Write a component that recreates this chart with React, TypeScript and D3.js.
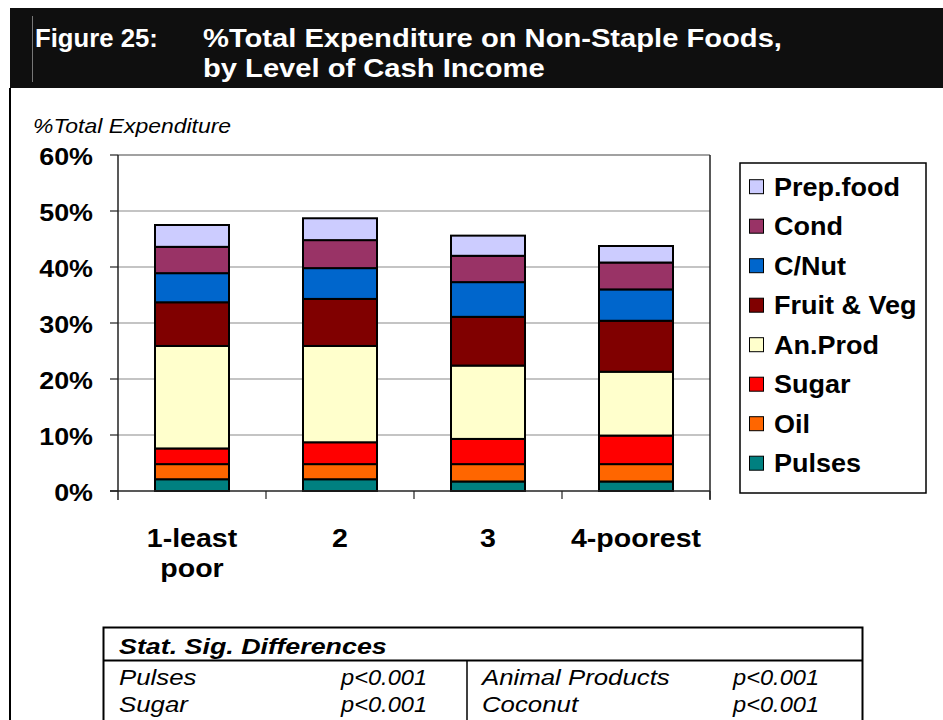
import React from "react";
import * as d3 from "d3";

const categories = ["1-least poor", "2", "3", "4-poorest"];
const categoryLines = [["1-least", "poor"], ["2"], ["3"], ["4-poorest"]];

const seriesNames = ["Pulses", "Oil", "Sugar", "An.Prod", "Fruit & Veg", "C/Nut", "Cond", "Prep.food"];
const seriesColors = ["#008080", "#FF6600", "#FF0000", "#FFFFCC", "#800000", "#0066CC", "#993366", "#CCCCFF"];

const pulses = [2.1, 2.1, 1.7, 1.7];
const oil = [2.7, 2.7, 3.1, 3.1];
const sugar = [2.8, 3.9, 4.5, 5.1];
const anProd = [18.3, 17.2, 13.1, 11.4];
const fruitVeg = [7.8, 8.4, 8.7, 9.1];
const cNut = [5.2, 5.5, 6.2, 5.6];
const cond = [4.7, 5.0, 4.7, 4.8];
const prepFood = [3.9, 3.9, 3.6, 2.95];

const yTicks = [0, 10, 20, 30, 40, 50, 60];

const sigLeft = [["Pulses", "p<0.001"], ["Sugar", "p<0.001"]];
const sigRight = [["Animal Products", "p<0.001"], ["Coconut", "p<0.001"]];

const FONT = "'Liberation Sans', Arial, Helvetica, sans-serif";

type TProps = {
  x: number; y: number; size: number; anchor?: string; bold?: boolean; italic?: boolean;
  fill?: string; sx?: number; children: React.ReactNode;
};
const T = ({ x, y, size, anchor = "start", bold = false, italic = false, fill = "#000", sx = 1.12, children }: TProps) => (
  <text
    transform={`translate(${x},${y}) scale(${sx},1)`}
    textAnchor={anchor as any}
    fontSize={size}
    fontWeight={bold ? "bold" : "normal"}
    fontStyle={italic ? "italic" : "normal"}
    fontFamily={FONT}
    fill={fill}
  >
    {children}
  </text>
);

export default function App() {
  const W = 943, H = 720;
  const left = 118, right = 710, top = 155, bottom = 491;

  const y = d3.scaleLinear().domain([0, 60]).range([bottom, top]);
  const x = d3.scaleBand<string>().domain(categories).range([left, right]).paddingInner(0.5).paddingOuter(0.25);
  const step = x.step();

  const seriesValues = [pulses, oil, sugar, anProd, fruitVeg, cNut, cond, prepFood];
  const rows = categories.map((c, i) => {
    const r: any = { cat: c };
    seriesNames.forEach((s, k) => (r[s] = seriesValues[k][i]));
    return r;
  });
  const stacked = d3.stack<any>().keys(seriesNames)(rows);

  const legendX = 740, legendY = 163, legendW = 186, legendH = 330;
  const legendFirst = 186.7, legendStep = 39.5;
  const legendOrder = [...seriesNames].reverse();

  return (
    <svg width={W} height={H} style={{ position: "absolute", left: 0, top: 0, background: "#fff" }}>
      <rect x={0} y={0} width={W} height={H} fill="#fff" />
      {/* header */}
      <rect x={10} y={8} width={W - 10} height={80} fill="#0f0f0f" />
      <line x1={32.5} x2={32.5} y1={16} y2={82} stroke="#777" strokeWidth={1} />
      <T x={35} y={47} size={26.5} bold fill="#fff" sx={0.97}>Figure 25:</T>
      <T x={203} y={47} size={26.5} bold fill="#fff" sx={1.1}>%Total Expenditure on Non-Staple Foods,</T>
      <T x={203} y={77} size={26.5} bold fill="#fff" sx={1.1}>by Level of Cash Income</T>
      {/* page left border */}
      <line x1={10} x2={10} y1={88} y2={H} stroke="#000" strokeWidth={2} />

      {/* y axis title */}
      <T x={33} y={133} size={20.5} italic>%Total Expenditure</T>

      {/* gridlines */}
      {yTicks.filter((t) => t > 0 && t < 60).map((t) => (
        <line key={t} x1={left} x2={right} y1={y(t)} y2={y(t)} stroke="#8a8a8a" strokeWidth={1.2} />
      ))}
      {/* plot border */}
      <line x1={left} x2={right} y1={y(60)} y2={y(60)} stroke="#444" strokeWidth={1.2} />
      <line x1={right} x2={right} y1={top} y2={bottom + 9} stroke="#222" strokeWidth={1.5} />

      {/* bars */}
      {stacked.map((layer, k) => (
        <g key={layer.key}>
          {layer.map((d, i) => (
            <rect
              key={i}
              x={x(categories[i])!}
              y={y(d[1])}
              width={x.bandwidth()}
              height={y(d[0]) - y(d[1])}
              fill={seriesColors[k]}
              stroke="#000"
              strokeWidth={2}
            />
          ))}
        </g>
      ))}

      {/* axes */}
      <line x1={left} x2={left} y1={top} y2={bottom + 9} stroke="#222" strokeWidth={1.5} />
      <line x1={left - 8} x2={right} y1={bottom} y2={bottom} stroke="#222" strokeWidth={1.5} />
      {yTicks.map((t) => (
        <g key={t}>
          <line x1={left - 8} x2={left} y1={y(t)} y2={y(t)} stroke="#222" strokeWidth={1.2} />
          <T x={93} y={y(t) + 9.5} size={24} bold anchor="end">{`${t}%`}</T>
        </g>
      ))}
      {categories.map((c, i) => (
        <line key={c} x1={left + step * (i + 1)} x2={left + step * (i + 1)} y1={bottom} y2={bottom + 8} stroke="#222" strokeWidth={1.2} />
      ))}
      {categories.map((c, i) => {
        const cx = x(c)! + x.bandwidth() / 2;
        return categoryLines[i].map((ln, j) => (
          <T key={c + j} x={cx} y={546.5 + j * 30} size={25.5} bold anchor="middle">{ln}</T>
        ));
      })}

      {/* legend */}
      <rect x={legendX} y={legendY} width={legendW} height={legendH} fill="#fff" stroke="#000" strokeWidth={1.5} />
      {legendOrder.map((name, i) => {
        const cy = legendFirst + i * legendStep;
        const color = seriesColors[seriesNames.indexOf(name)];
        return (
          <g key={name}>
            <rect x={749.5} y={cy - 7} width={14} height={14} fill={color} stroke="#000" strokeWidth={1} />
            <T x={774} y={cy + 9} size={25} bold sx={1.08}>{name}</T>
          </g>
        );
      })}

      {/* significance table */}
      <rect x={103.5} y={627.5} width={759} height={120} fill="none" stroke="#000" strokeWidth={2} />
      <line x1={103.5} x2={862.5} y1={660.5} y2={660.5} stroke="#000" strokeWidth={2} />
      <line x1={467} x2={467} y1={660.5} y2={H + 10} stroke="#000" strokeWidth={1.5} />
      <T x={119} y={653.5} size={22} bold italic sx={1.22}>Stat. Sig. Differences</T>
      {sigLeft.map((r, i) => (
        <g key={"l" + i}>
          <T x={119} y={685 + i * 27} size={21.5} italic sx={1.2}>{r[0]}</T>
          <T x={341} y={685 + i * 27} size={21.5} italic sx={1.1}>{r[1]}</T>
        </g>
      ))}
      {sigRight.map((r, i) => (
        <g key={"r" + i}>
          <T x={482} y={685 + i * 27} size={21.5} italic sx={1.2}>{r[0]}</T>
          <T x={733} y={685 + i * 27} size={21.5} italic sx={1.1}>{r[1]}</T>
        </g>
      ))}
    </svg>
  );
}
